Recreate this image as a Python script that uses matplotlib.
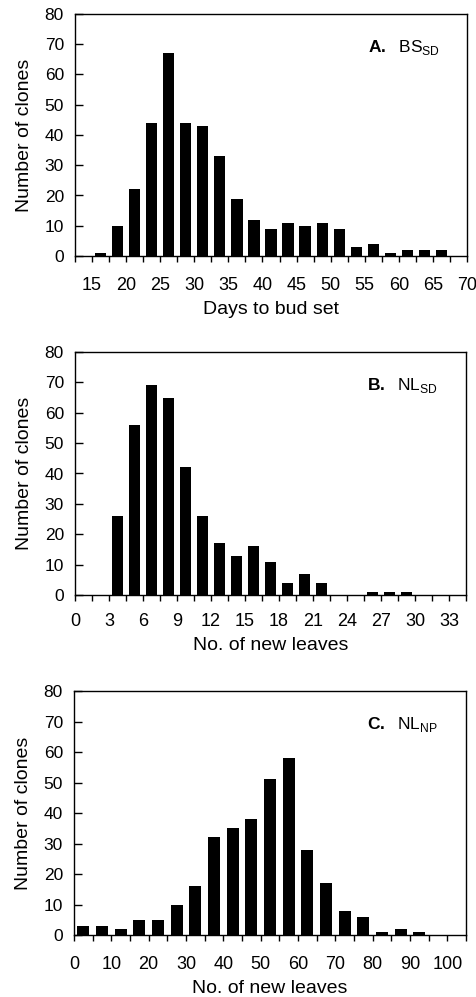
import numpy as np
import matplotlib
matplotlib.use("Agg")
import matplotlib.pyplot as plt

plt.rcParams['font.family'] = ['Liberation Sans', 'DejaVu Sans']
plt.rcParams['mathtext.fontset'] = 'custom'
plt.rcParams['mathtext.rm'] = 'Liberation Sans'
plt.rcParams['mathtext.bf'] = 'Liberation Sans:bold'

# A. days to bud set (bins of 2.5 days, lower edge)
bs_bins = [15, 17.5, 20, 22.5, 25, 27.5, 30, 32.5, 35, 37.5, 40, 42.5, 45,
           47.5, 50, 52.5, 55, 57.5, 60, 62.5, 65]
bs_counts = [1, 10, 22, 44, 67, 44, 43, 33, 19, 12, 9, 11, 10, 11, 9, 3, 4,
             1, 2, 2, 2]

# B. new leaves under short days (bins of 1.5 leaves, lower edge)
nlsd_bins = [3, 4.5, 6, 7.5, 9, 10.5, 12, 13.5, 15, 16.5, 18, 19.5, 21,
             22.5, 24, 25.5, 27, 28.5]
nlsd_counts = [26, 56, 69, 65, 42, 26, 17, 13, 16, 11, 4, 7, 4, 0, 0, 1, 1, 1]

# C. new leaves, natural photoperiod (bins of 5 leaves, lower edge)
nlnp_bins = [0, 5, 10, 15, 20, 25, 30, 35, 40, 45, 50, 55, 60, 65, 70, 75,
             80, 85, 90]
nlnp_counts = [3, 3, 2, 5, 5, 10, 16, 32, 35, 38, 51, 58, 28, 17, 8, 6, 1, 2, 1]

panels = [
    dict(bins=bs_bins, counts=bs_counts, step=2.5, x0=12.5, x1=70,
         lab_start=15, lab_step=5, xlabel='Days to bud set',
         tag=r'$\mathbf{A.}$  BS$_{\mathrm{SD}}$',
         rect=[75 / 477, 1 - 256 / 997, 392 / 477, 242 / 997], pad=11),
    dict(bins=nlsd_bins, counts=nlsd_counts, step=1.5, x0=0, x1=34.5,
         lab_start=0, lab_step=3, xlabel='No. of new leaves',
         tag=r'$\mathbf{B.}$  NL$_{\mathrm{SD}}$',
         rect=[75 / 477, 1 - 595 / 997, 391 / 477, 243 / 997], pad=9),
    dict(bins=nlnp_bins, counts=nlnp_counts, step=5, x0=0, x1=105,
         lab_start=0, lab_step=10, xlabel='No. of new leaves',
         tag=r'$\mathbf{C.}$  NL$_{\mathrm{NP}}$',
         rect=[74 / 477, 1 - 935 / 997, 392 / 477, 244 / 997], pad=11),
]

fig = plt.figure(figsize=(4.77, 9.97), dpi=100)

for p in panels:
    ax = fig.add_axes(p['rect'])
    centers = np.array(p['bins']) + p['step'] / 2
    ax.bar(centers, p['counts'], width=p['step'] * 0.66, color='black',
           edgecolor='black', linewidth=0)
    ax.set_xlim(p['x0'], p['x1'])
    ax.set_ylim(0, 80)
    ax.set_yticks(range(0, 81, 10))

    edges = np.arange(p['x0'], p['x1'] + p['step'] / 2, p['step'])
    labels = []
    for e in edges:
        k = (e - p['lab_start']) / p['lab_step']
        labels.append(f'{e:g}' if abs(k - round(k)) < 1e-6 and k >= 0 else '')
    ax.set_xticks(edges)
    ax.set_xticklabels(labels)

    ax.tick_params(axis='y', direction='in', length=6, width=1, labelsize=12.5,
                   pad=8)
    ax.tick_params(axis='x', direction='out', length=4, width=1,
                   labelsize=13, pad=p['pad'])
    for s in ax.spines.values():
        s.set_linewidth(1)

    ax.set_xlabel(p['xlabel'], fontsize=14, labelpad=5)
    ax.set_ylabel('Number of clones', fontsize=14, labelpad=8)
    ax.text(0.747, 0.845, p['tag'], transform=ax.transAxes, fontsize=12.5,
            va='baseline', ha='left')

fig.savefig('out.png', dpi=100)
